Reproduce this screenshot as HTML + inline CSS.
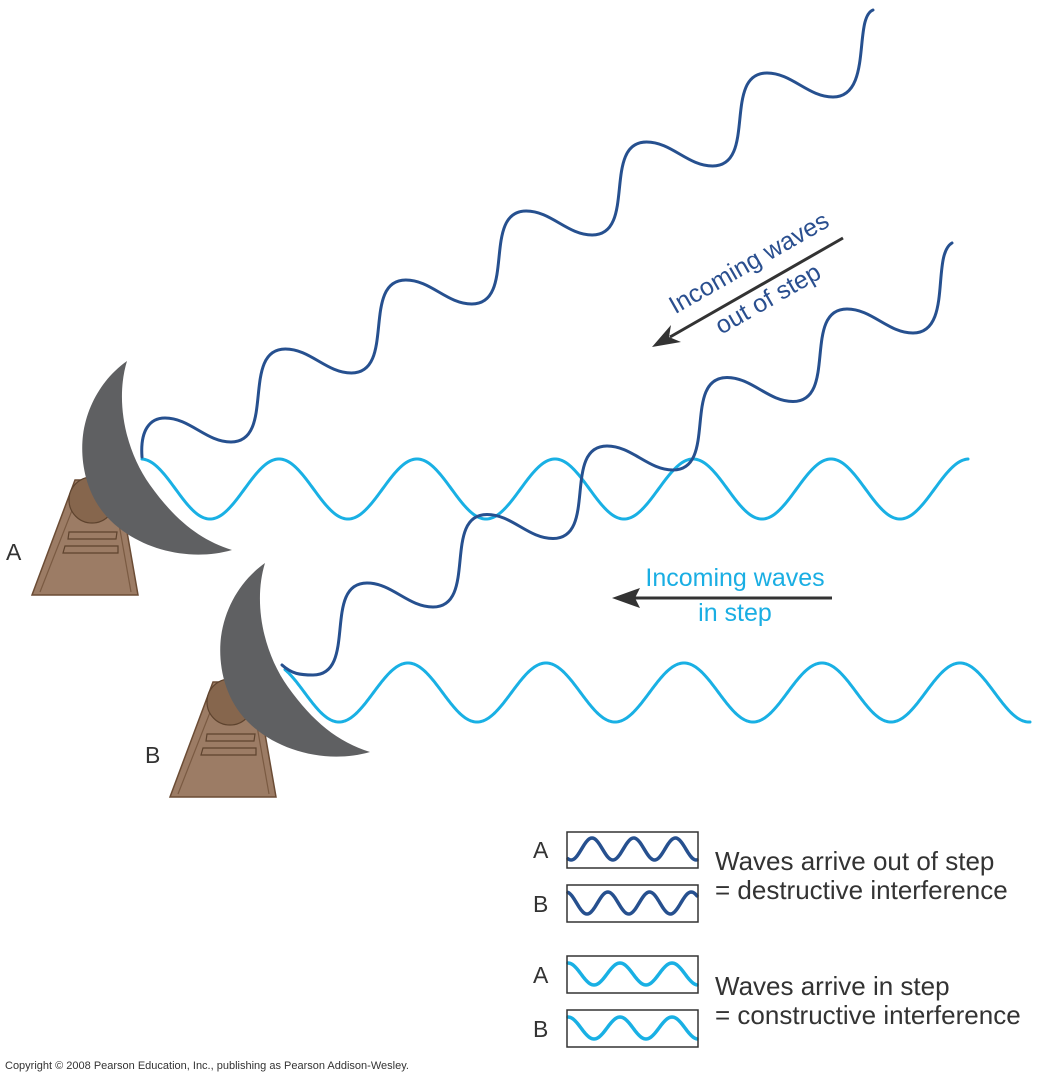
<!DOCTYPE html>
<html><head><meta charset="utf-8"><style>
html,body{margin:0;padding:0;background:#fff;width:1037px;height:1080px;overflow:hidden}
svg{display:block}
text{font-family:"Liberation Sans",Arial,sans-serif}
</style></head><body>
<svg id="s" width="1037" height="1080" viewBox="0 0 1037 1080" xmlns="http://www.w3.org/2000/svg">
<defs>
<g id="ped">
<path d="M75,480 L118,480 L138,595 L32,595 Z" fill="#9c7c65" stroke="#6b4c35" stroke-width="1.5"/>
<path d="M80,490 L40,592 M113,490 L131,592" stroke="#7a5a42" stroke-width="1.2" fill="none"/>
<circle cx="92" cy="500" r="23" fill="#86664d" stroke="#5e432e" stroke-width="1.2"/>
<path d="M69,532 L117,532 L116,539 L68,539 Z" fill="#9c7c65" stroke="#5e432e" stroke-width="1.2"/>
<path d="M65,546 L118,546 L118,553 L63,553 Z" fill="#9c7c65" stroke="#5e432e" stroke-width="1.2"/>
</g>
<path id="dish" d="M127,361 C115,400 125,450 150,485 C175,520 200,540 232,550 C190,562 140,550 110,520 C85,495 80,460 83,435 C87,405 103,378 127,361 Z" fill="#5f6062"/>
</defs>
<use href="#ped"/>
<use href="#ped" transform="translate(138,202)"/>
<g id="waves" fill="none" stroke-width="3" stroke-linecap="round"></g>
<use href="#dish"/>
<use href="#dish" transform="translate(138,202)"/>
<text x="6" y="560" font-size="23" fill="#333">A</text>
<text x="145" y="763" font-size="23" fill="#333">B</text>
<!-- out of step arrow -->
<line x1="843" y1="238" x2="670" y2="337" stroke="#333" stroke-width="3"/>
<path d="M652,347 L671,325 L669,337 L681,342 Z" fill="#333"/>
<g transform="translate(753,270) rotate(-29.7)"><text x="0" y="0" font-size="25" fill="#2a4f8f" text-anchor="middle">Incoming waves</text></g>
<g transform="translate(772,306) rotate(-29.7)"><text x="0" y="0" font-size="25" fill="#2a4f8f" text-anchor="middle">out of step</text></g>
<!-- in step arrow -->
<line x1="832" y1="598" x2="628" y2="598" stroke="#333" stroke-width="3"/>
<path d="M612,598 L640,588 L635,598 L640,608 Z" fill="#333"/>
<text x="735" y="586" font-size="25" fill="#1aaee3" text-anchor="middle">Incoming waves</text>
<text x="735" y="621" font-size="25" fill="#1aaee3" text-anchor="middle">in step</text>
<!-- legend -->
<g fill="none" stroke="#333" stroke-width="1.5">
<rect x="567" y="832" width="131" height="36"/>
<rect x="567" y="885" width="131" height="37"/>
<rect x="567" y="956" width="131" height="37"/>
<rect x="567" y="1010" width="131" height="37"/>
</g>
<g font-size="23" fill="#333">
<text x="533" y="858">A</text>
<text x="533" y="912">B</text>
<text x="533" y="983">A</text>
<text x="533" y="1037">B</text>
</g>
<g font-size="26" fill="#333">
<text x="715" y="870">Waves arrive out of step</text>
<text x="715" y="899">= destructive interference</text>
<text x="715" y="995">Waves arrive in step</text>
<text x="715" y="1024">= constructive interference</text>
</g>
<text x="5" y="1069" font-size="11" fill="#333">Copyright © 2008 Pearson Education, Inc., publishing as Pearson Addison-Wesley.</text>
</svg>
<script>
(function(){
var NS="http://www.w3.org/2000/svg",g=document.getElementById('waves');
function add(d,c,w){var p=document.createElementNS(NS,'path');p.setAttribute('d',d);p.setAttribute('stroke',c);if(w)p.setAttribute('stroke-width',w);g.appendChild(p);}
function sine(x0,x1,cy,a,ph,per,sign){var d='';for(var x=x0;x<=x1+0.001;x+=1){var y=cy-sign*a*Math.cos(2*Math.PI*(x-ph)/per);d+=(d?'L':'M')+x.toFixed(1)+','+y.toFixed(2);}return d;}
var L='#19b0e4',D='#26508f';
add(sine(142,968,489,30,141,138,1),L);
add(sine(285,1030,692.5,29.5,408,138,1),L);
add(sine(568,697,849,11,592,41.7,1),D,3.5);
add(sine(568,697,903,-11,587,41.7,1),D,3.5);
add(sine(568,697,974,11,568,52,1),L,3.5);
add(sine(568,697,1028,11,568,52,1),L,3.5);
function dark(start,T0,dx,dy,n,endSeg){
 var d=start;
 for(var k=0;k<n;k++){
  var T=[T0[0]+dx*k,T0[1]+dy*k],B=[T[0]+66,T[1]+24];
  d+=' C'+(T[0]+25)+','+T[1]+' '+(B[0]-25)+','+B[1]+' '+B[0]+','+B[1];
  if(k<n-1){var T2=[T0[0]+dx*(k+1),T0[1]+dy*(k+1)];
   d+=' C'+(B[0]+45)+','+B[1]+' '+(T2[0]-45)+','+T2[1]+' '+T2[0]+','+T2[1];}
  else d+=endSeg(B);
 }
 return d;
}
add(dark('M142,457 C140,430 150,418 165,418',[165,418],120.4,-69,6,function(B){return ' C'+(B[0]+40)+','+B[1]+' '+(B[0]+20)+',18 873,10';}),D);
var dB='M282,665 C292,674 300,675 313,675 C358,675 322,583 367,583';
dB+=dark('',[367,583],120,-68.5,5,function(B){return ' C'+(B[0]+40)+','+B[1]+' '+(B[0]+18)+',255 952,243';});
add(dB,D);
})();
</script>
</body></html>
